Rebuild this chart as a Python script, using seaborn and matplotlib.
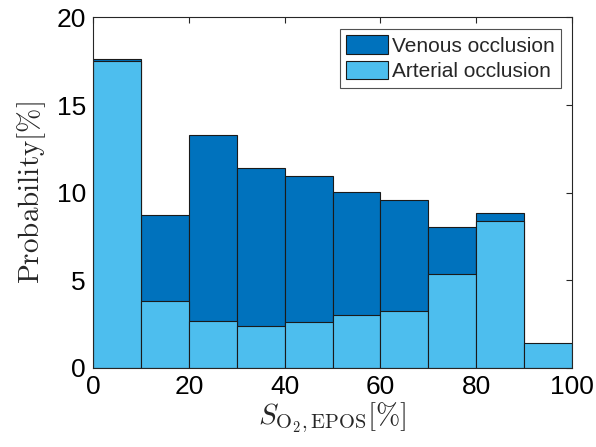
import numpy as np
import matplotlib
matplotlib.use("Agg")
import matplotlib.pyplot as plt
import seaborn as sns

bin_edges = [0, 10, 20, 30, 40, 50, 60, 70, 80, 90, 100]
venous = [17.6, 8.75, 13.3, 11.4, 10.95, 10.05, 9.6, 8.03, 8.84, 0.0]
arterial = [17.5, 3.8, 2.7, 2.38, 2.62, 3.0, 3.27, 5.33, 8.4, 1.41]
x_ticks = [0, 20, 40, 60, 80, 100]
y_ticks = [0, 5, 10, 15, 20]

sns.set_theme(style="white")
plt.rcParams['font.family'] = ['Liberation Sans', 'DejaVu Sans']
plt.rcParams['mathtext.fontset'] = 'cm'

centers = [(bin_edges[i] + bin_edges[i + 1]) / 2 for i in range(len(bin_edges) - 1)]

fig = plt.figure(figsize=(5.96, 4.47), dpi=100)
ax = fig.add_axes([0.156, 0.177, 0.804, 0.784])

sns.histplot(x=centers, weights=venous, bins=bin_edges, ax=ax, color="#0072BD",
             alpha=1, edgecolor="#1a1a1a", linewidth=0.8, label="Venous occlusion")
sns.histplot(x=centers, weights=arterial, bins=bin_edges, ax=ax, color="#4DBEEE",
             alpha=1, edgecolor="#1a1a1a", linewidth=0.8, label="Arterial occlusion")

ax.set_xlim(0, 100)
ax.set_ylim(0, 20)
ax.set_xticks(x_ticks)
ax.set_yticks(y_ticks)
ax.tick_params(direction='in', length=4, width=0.8, top=True, right=True,
               labelsize=19, colors="#262626", labelcolor="black", pad=5)
for s in ax.spines.values():
    s.set_color("#262626")
    s.set_linewidth(0.8)

ax.set_xlabel(r'$S_{\mathrm{O_2,EPOS}}[\%]$', fontsize=21, labelpad=1)
ax.set_ylabel(r'$\mathrm{Probability}[\%]$', fontsize=21, labelpad=6)

leg = ax.legend(loc='upper right', fontsize=15, frameon=True, fancybox=False,
                edgecolor="#262626", handlelength=2.0, handleheight=1.0,
                handletextpad=0.2, borderpad=0.3, labelspacing=0.25,
                borderaxespad=0.55)
leg.get_frame().set_linewidth(0.8)

fig.savefig("out.png", dpi=100)
